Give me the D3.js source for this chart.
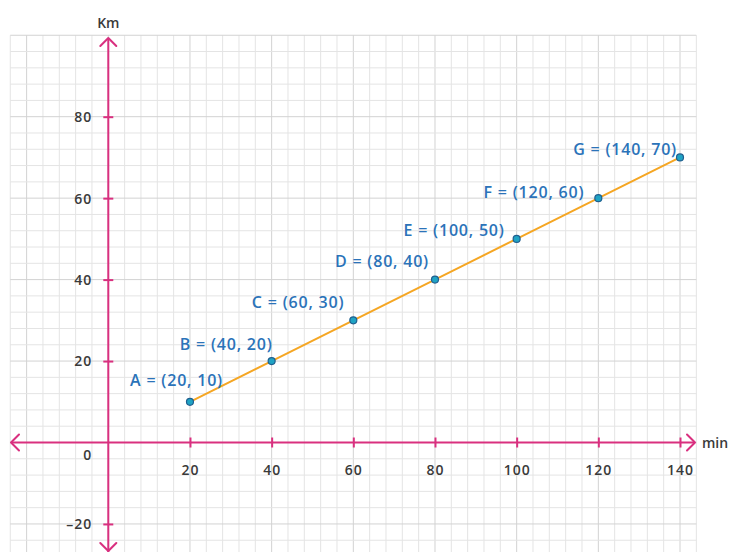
<!DOCTYPE html>
<html>
<head>
<meta charset="utf-8">
<script src="https://cdn.jsdelivr.net/npm/d3@7"></script>
<style>
  html, body { margin: 0; padding: 0; background: #ffffff; }
  svg { display: block; }
  text { font-family: "Open Sans", Lato, sans-serif; }
</style>
</head>
<body>
<svg id="chart" width="732" height="552"></svg>
<script>
// ---- data ----
const pointNames = ["A", "B", "C", "D", "E", "F", "G"];
const minutes = [20, 40, 60, 80, 100, 120, 140];
const km = [10, 20, 30, 40, 50, 60, 70];
const xTickValues = [20, 40, 60, 80, 100, 120, 140];
const yTickValues = [-20, 20, 40, 60, 80];
const xAxisTitle = "min";
const yAxisTitle = "Km";

// ---- layout (label offsets relative to each point, px) ----
const labelDx = [33, 1, -9, -6, -12, -14, -3];
const labelDy = [-21, -17, -18, -18, -8, -6, -8];

const W = 732, H = 552;
const svg = d3.select("#chart");

const x = d3.scaleLinear().domain([0, 140]).range([108.3, 680]);
const y = d3.scaleLinear().domain([0, 80]).range([442.5, 116.7]);

const axisColor = "#d9307f";
const labelColor = "#3a3a3a";
const pointLabelColor = "#2b73b9";
const fontFam = "'Open Sans', Lato, sans-serif";

// ---- grid ----
const grid = svg.append("g");
const gx0 = -24, gx1 = 144, gy0 = -28, gy1 = 100;
const vLines = d3.range(gx0, gx1 + 0.1, 4);
const hLines = d3.range(gy0, gy1 + 0.1, 4);
grid.selectAll("line.v").data(vLines).join("line")
  .attr("x1", d => x(d)).attr("x2", d => x(d))
  .attr("y1", y(gy1)).attr("y2", y(gy0))
  .attr("stroke", d => d % 20 === 0 ? "#d2d2d2" : "#e4e4e4")
  .attr("stroke-width", 1);
grid.selectAll("line.h").data(hLines).join("line")
  .attr("y1", d => y(d)).attr("y2", d => y(d))
  .attr("x1", x(gx0)).attr("x2", x(gx1))
  .attr("stroke", d => d % 20 === 0 ? "#d2d2d2" : "#e4e4e4")
  .attr("stroke-width", 1);

// ---- axes ----
const axes = svg.append("g");
const x0 = x(0), y0 = y(0);
axes.append("line").attr("x1", 11).attr("x2", 695).attr("y1", y0).attr("y2", y0)
  .attr("stroke", axisColor).attr("stroke-width", 2);
axes.append("line").attr("x1", x0).attr("x2", x0).attr("y1", 38).attr("y2", 556)
  .attr("stroke", axisColor).attr("stroke-width", 2);
const ah = 8;
const chevrons = [
  [[695 - ah, y0 - ah], [695, y0], [695 - ah, y0 + ah]],
  [[11 + ah, y0 - ah], [11, y0], [11 + ah, y0 + ah]],
  [[x0 - ah, 38 + ah], [x0, 38], [x0 + ah, 38 + ah]],
  [[x0 - ah, 551 - ah], [x0, 551], [x0 + ah, 551 - ah]]
];
axes.selectAll("path.chev").data(chevrons).join("path")
  .attr("d", d => d3.line()(d))
  .attr("fill", "none").attr("stroke", axisColor).attr("stroke-width", 2)
  .attr("stroke-linecap", "round").attr("stroke-linejoin", "round");

const xAxisG = axes.append("g").attr("transform", `translate(0,${y0})`)
  .call(d3.axisBottom(x).tickValues(xTickValues).tickSize(5).tickFormat(d3.format("d")));
xAxisG.select(".domain").remove();
xAxisG.selectAll(".tick line").attr("y1", -5).attr("y2", 5)
  .attr("stroke", axisColor).attr("stroke-width", 2);
xAxisG.selectAll(".tick text").attr("y", 32).attr("dy", "0")
  .attr("fill", labelColor).style("font-size", "14px").style("font-weight", "600")
  .style("letter-spacing", "1px").style("font-family", fontFam);

const yAxisG = axes.append("g").attr("transform", `translate(${x0},0)`)
  .call(d3.axisLeft(y).tickValues(yTickValues).tickSize(5)
    .tickFormat(d => d < 0 ? "\u2013" + Math.abs(d) : d));
yAxisG.select(".domain").remove();
yAxisG.selectAll(".tick text").attr("x", -16).attr("dy", "0.35em")
  .attr("fill", labelColor).style("font-size", "14px").style("font-weight", "600")
  .style("letter-spacing", "1px").style("font-family", fontFam);
yAxisG.selectAll(".tick line").attr("x1", -5).attr("x2", 5)
  .attr("stroke", axisColor).attr("stroke-width", 2);

axes.append("text").attr("x", x0 - 17).attr("y", y0 + 13).attr("dy", "0.35em")
  .attr("text-anchor", "end").attr("fill", labelColor)
  .style("font-size", "14px").style("font-weight", "600").text("0");

axes.append("text").attr("x", 702).attr("y", y0 + 1).attr("dy", "0.35em")
  .attr("fill", labelColor).style("font-size", "14px").style("font-weight", "600").text(xAxisTitle);
axes.append("text").attr("x", x0).attr("y", 23).attr("dy", "0.35em")
  .attr("text-anchor", "middle").attr("fill", labelColor)
  .style("font-size", "14px").style("font-weight", "600").text(yAxisTitle);

// ---- data line & points ----
const pts = minutes.map((m, i) => ({ name: pointNames[i], m, k: km[i], i }));
svg.append("path").datum(pts)
  .attr("d", d3.line().x(d => x(d.m)).y(d => y(d.k)))
  .attr("fill", "none").attr("stroke", "#f5a623").attr("stroke-width", 2);

svg.selectAll("circle.pt").data(pts).join("circle")
  .attr("cx", d => x(d.m)).attr("cy", d => y(d.k)).attr("r", 3.5)
  .attr("fill", "#1fa3c4").attr("stroke", "#1f5f8f").attr("stroke-width", 1.2);

svg.selectAll("text.pl").data(pts).join("text")
  .attr("x", d => x(d.m) + labelDx[d.i])
  .attr("y", d => y(d.k) + labelDy[d.i])
  .attr("dy", "0.35em").attr("text-anchor", "end")
  .attr("fill", pointLabelColor).style("font-size", "16px").style("font-weight", "600")
  .style("letter-spacing", "0.8px")
  .text(d => `${d.name} = (${d.m}, ${d.k})`);
</script>
</body>
</html>
